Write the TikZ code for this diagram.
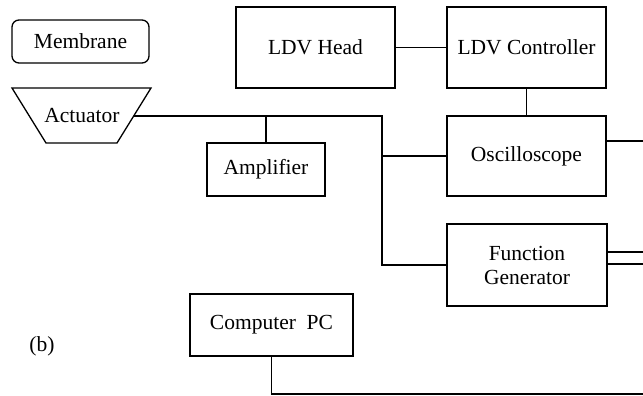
\documentclass[tikz,border=0pt]{standalone}
\usepackage{fontspec}
\setmainfont{Liberation Serif}
\begin{document}
\begin{tikzpicture}[x=1pt,y=-1pt,
  box/.style={draw, line width=1.3pt, align=center, inner sep=0pt, font=\fontsize{21.5}{24}\selectfont},
  wire/.style={line width=1.3pt},
  lbl/.style={font=\fontsize{21.5}{24}\selectfont, inner sep=0pt}]
\useasboundingbox (0,0) rectangle (643,396);
\node[box, rounded corners=7pt, minimum width=137pt, minimum height=43pt] (mem) at (80.5,41.5) {Membrane};
\draw[wire] (12,88) -- (151,88) -- (117,143) -- (46,143) -- cycle;
\node[lbl] (act) at (82,116) {Actuator};
\coordinate (actR) at (134,116);
\node[box, minimum width=159pt, minimum height=81pt] (head) at (315.5,47.5) {LDV Head};
\node[box, minimum width=159pt, minimum height=81pt] (ctrl) at (526.5,47.5) {LDV Controller};
\node[box, minimum width=159pt, minimum height=80pt] (osc) at (526.5,156) {Oscilloscope};
\node[box, minimum width=118pt, minimum height=53pt] (amp) at (266,169.5) {Amplifier};
\node[box, minimum width=160pt, minimum height=82pt] (fg) at (527,265) {Function\\Generator};
\node[box, minimum width=163pt, minimum height=62pt] (pc) at (271.5,325) {Computer\ \ PC};
\node[lbl] (b) at (42,346) {(b)};
\coordinate (j1) at (382,116);
\coordinate (j2) at (266,116);
\coordinate (j3) at (382,156);
\coordinate (oscR) at (643,141);
\coordinate (fgR1) at (643,252);
\coordinate (fgR2) at (643,264);
\coordinate (pcR) at (643,394);
\draw[wire] (actR) -- (j1) |- (fg.west);
\draw[wire] (j2) -- (amp.north);
\draw[wire] (j3) -- (osc.west);
\draw[wire] (head.east) -- (ctrl.west);
\draw[wire] (ctrl.south) -- (osc.north);
\draw[wire] (oscR -| osc.east) -- (oscR);
\draw[wire] (fgR1 -| fg.east) -- (fgR1);
\draw[wire] (fgR2 -| fg.east) -- (fgR2);
\draw[wire] (pc.south) |- (pcR);
\end{tikzpicture}
\end{document}
